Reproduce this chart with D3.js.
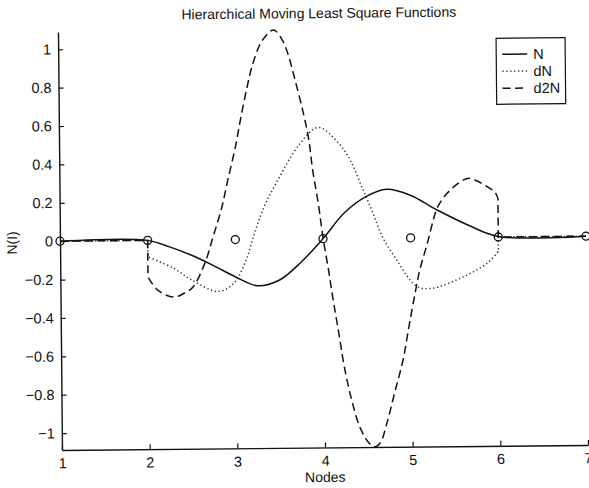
<!DOCTYPE html>
<html>
<head>
<meta charset="utf-8">
<script src="https://cdn.jsdelivr.net/npm/d3@7"></script>
<style>
  html, body { margin: 0; padding: 0; background: #fff; }
  svg { display: block; }
  text { font-family: "Liberation Sans", Arial, Helvetica, sans-serif; fill: #111; }
</style>
</head>
<body>
<svg id="chart" width="589" height="488"></svg>
<script>
// Node positions and markers
const nodes = [1, 2, 3, 4, 5, 6, 7];
const nodeValues = [0, 0, 0, 0, 0, 0, 0];

// Shape function N
const xN = [1, 2, 2.25, 2.5, 2.75, 3.0, 3.25, 3.5, 3.75, 4.0, 4.25, 4.5, 4.73, 5.0, 5.3, 5.66, 6.0, 7];
const yN = [0, 0, -0.035, -0.08, -0.135, -0.195, -0.242, -0.213, -0.12, 0, 0.135, 0.218, 0.254, 0.222, 0.145, 0.063, 0.003, 0];

// First derivative dN (jumps at nodes 2 and 6)
const xDN = [1, 2, 2, 2.29, 2.5, 2.8, 2.98, 3.12, 3.22, 3.33, 3.47, 3.75, 3.96, 4.19, 4.32, 4.45, 4.56, 4.68, 4.84, 4.99, 5.08, 5.24, 5.59, 5.87, 6, 6, 7];
const yDN = [0, 0, -0.085, -0.146, -0.209, -0.27, -0.227, -0.108, 0.032, 0.167, 0.29, 0.498, 0.58, 0.496, 0.407, 0.266, 0.146, 0.005, -0.116, -0.22, -0.257, -0.264, -0.207, -0.136, -0.075, 0, 0];

// Second derivative d2N (jumps at nodes 2 and 6)
const xD2N = [1, 2, 2, 2.11, 2.29, 2.4, 2.51, 2.65, 2.745, 2.85, 2.92, 3.01, 3.07, 3.15, 3.22, 3.33, 3.46, 3.56, 3.62, 3.7, 3.79, 3.85, 3.89, 3.95, 4.0, 4.06, 4.11, 4.17, 4.23, 4.31, 4.4, 4.5, 4.56, 4.63, 4.71, 4.8, 4.9, 4.97, 5.045, 5.1, 5.19, 5.26, 5.31, 5.42, 5.6, 5.68, 5.91, 5.97, 6, 6, 7];
const yD2N = [0, 0, -0.19, -0.26, -0.297, -0.28, -0.246, -0.122, 0.013, 0.169, 0.309, 0.48, 0.621, 0.792, 0.917, 1.036, 1.09, 1.035, 0.965, 0.826, 0.655, 0.513, 0.357, 0.185, 0.008, -0.164, -0.32, -0.492, -0.67, -0.842, -0.983, -1.066, -1.087, -1.067, -0.963, -0.807, -0.636, -0.465, -0.288, -0.169, -0.029, 0.091, 0.158, 0.23, 0.297, 0.307, 0.254, 0.232, 0.2, 0, 0];

// Axis ticks and labels
const xTicks = [1, 2, 3, 4, 5, 6, 7];
const yTicks = [1, 0.8, 0.6, 0.4, 0.2, 0, -0.2, -0.4, -0.6, -0.8, -1];
const titleText = "Hierarchical Moving Least Square Functions";
const xLabel = "Nodes";
const yLabel = "N(I)";
const legendNames = ["N", "dN", "d2N"];

const plot = { left: 60, right: 586, top: 29.5, bottom: 447.5 };
const svg = d3.select("#chart");
// the whole figure sits at a slight tilt
const g = svg.append("g").attr("transform", "rotate(-0.55, 323, 241)");

const x = d3.scaleLinear().domain([1, 7]).range([plot.left, plot.right]);
const y = d3.scaleLinear().domain([-1.088, 1.09]).range([plot.bottom, plot.top]);

const fmt = v => (v < 0 ? "\u2212" : "") + d3.format("~g")(Math.abs(v));

// Axes: left and bottom only, ticks pointing inward
const yAxis = g.append("g").attr("transform", `translate(${plot.left},0)`)
  .call(d3.axisLeft(y).tickValues(yTicks).tickSizeInner(-5).tickSizeOuter(0).tickPadding(7).tickFormat(fmt));
const xAxis = g.append("g").attr("transform", `translate(0,${plot.bottom})`)
  .call(d3.axisBottom(x).tickValues(xTicks).tickSizeInner(-5).tickSizeOuter(0).tickPadding(8).tickFormat(d3.format("d")));
[xAxis, yAxis].forEach(a => {
  a.selectAll("path.domain").attr("stroke", "#111").attr("stroke-width", 1.4);
  a.selectAll(".tick line").attr("stroke", "#111").attr("stroke-width", 1.2);
  a.selectAll(".tick text").style("font-size", "14.5px").attr("fill", "#111");
});

// Build a path: smooth within runs of increasing x, straight jumps where x repeats
function seriesPath(xs, ys) {
  const pts = xs.map((v, i) => [v, ys[i]]);
  const runs = [];
  let cur = [pts[0]];
  for (let i = 1; i < pts.length; i++) {
    if (pts[i][0] === pts[i - 1][0]) { runs.push(cur); cur = [pts[i]]; }
    else cur.push(pts[i]);
  }
  runs.push(cur);
  const gen = d3.line().x(d => x(d[0])).y(d => y(d[1])).curve(d3.curveCatmullRom.alpha(0.5));
  return runs.map((r, i) => { const s = gen(r); return i ? "L" + s.slice(1) : s; }).join("");
}

const styles = [
  { dash: null, width: 1.5, color: "#111" },
  { dash: "1.3,2.6", width: 1.5, color: "#333" },
  { dash: "8,4.5", width: 1.5, color: "#111" }
];
const series = [[xN, yN], [xDN, yDN], [xD2N, yD2N]];

series.forEach((s, i) => {
  g.append("path")
    .attr("d", seriesPath(s[0], s[1]))
    .attr("fill", "none")
    .attr("stroke", styles[i].color)
    .attr("stroke-width", styles[i].width)
    .attr("stroke-dasharray", styles[i].dash);
});

// Node markers
g.selectAll("circle.node").data(nodes).join("circle")
  .attr("class", "node")
  .attr("cx", d => x(d))
  .attr("cy", (d, i) => y(nodeValues[i]))
  .attr("r", 4)
  .attr("fill", "none")
  .attr("stroke", "#111")
  .attr("stroke-width", 1.3);

// Title and axis labels
g.append("text").attr("x", (plot.left + plot.right) / 2 - 2).attr("y", 18)
  .attr("text-anchor", "middle").style("font-size", "14px").text(titleText);
g.append("text").attr("x", (plot.left + plot.right) / 2).attr("y", 482)
  .attr("text-anchor", "middle").style("font-size", "14px").text(xLabel);
g.append("text").attr("transform", "translate(17,240) rotate(-90)")
  .attr("text-anchor", "middle").style("font-size", "14px").text(yLabel);

// Legend
const lg = g.append("g");
lg.append("rect").attr("x", 498).attr("y", 40).attr("width", 69).attr("height", 66)
  .attr("fill", "#fff").attr("stroke", "#111").attr("stroke-width", 1.2);
legendNames.forEach((name, i) => {
  const yy = 56 + i * 17;
  lg.append("line").attr("x1", 504).attr("x2", 529).attr("y1", yy).attr("y2", yy)
    .attr("stroke", styles[i].color).attr("stroke-width", styles[i].width)
    .attr("stroke-dasharray", styles[i].dash);
  lg.append("text").attr("x", 535).attr("y", yy + 5).style("font-size", "14.5px").text(name);
});
</script>
</body>
</html>
